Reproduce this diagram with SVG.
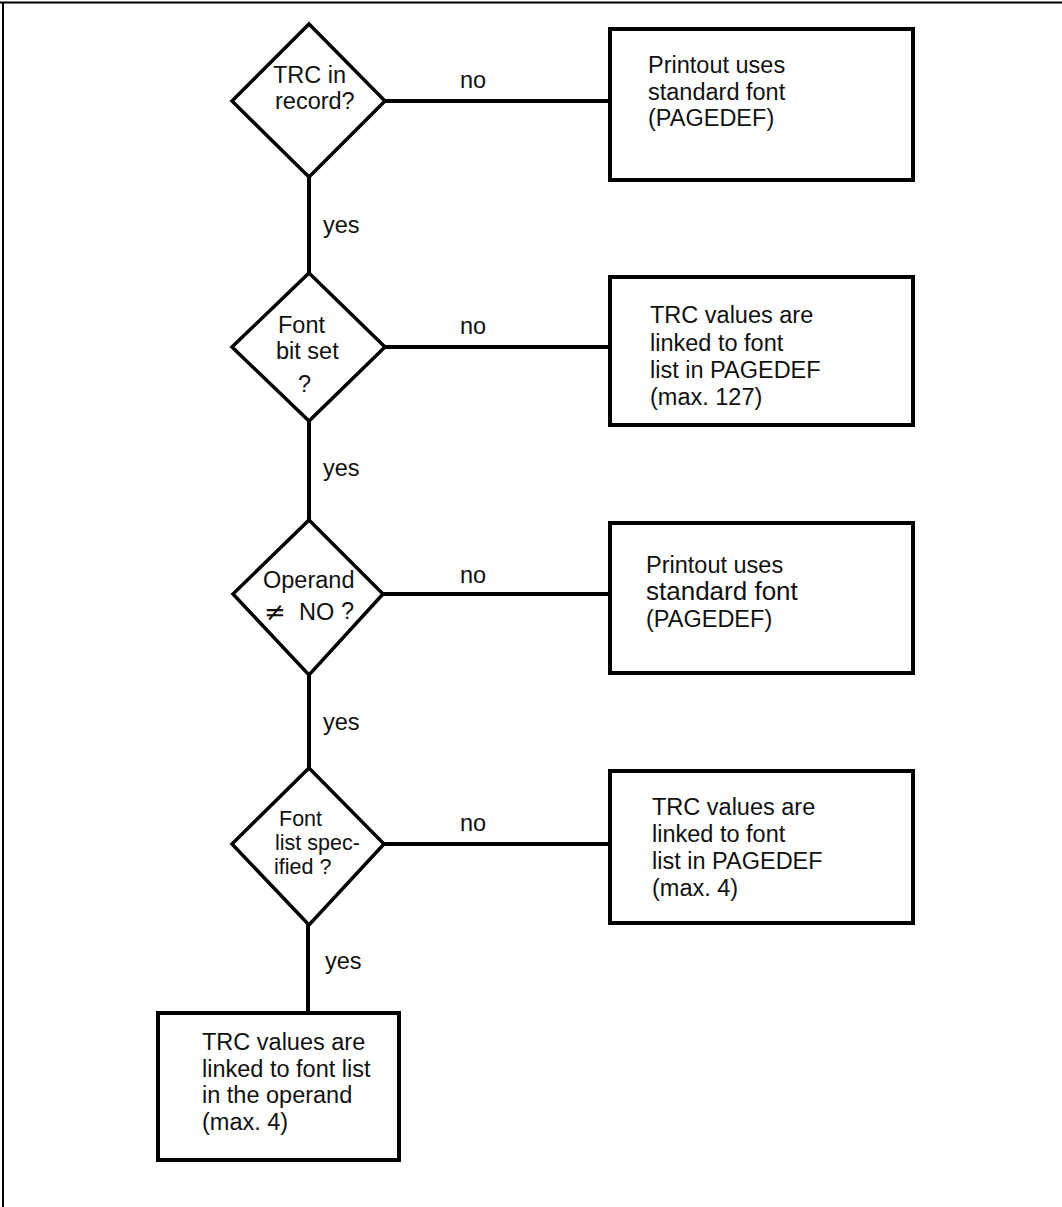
<svg xmlns="http://www.w3.org/2000/svg" width="1062" height="1207" viewBox="0 0 1062 1207">
  <style>
    .frame { stroke: #000; stroke-width: 2; fill: none; }
    .box { fill: #fff; stroke: #000; stroke-width: 4; }
    .dia { fill: #fff; stroke: #000; stroke-width: 3.5; stroke-linejoin: miter; }
    .wire { stroke: #000; stroke-width: 4; fill: none; }
    text { font-family: "Liberation Sans", Arial, sans-serif; font-size: 23.5px; fill: #111; }
    .big { font-size: 26px; }
    .tight { font-size: 21.5px; }
    .sym { font-family: "DejaVu Sans", sans-serif; font-size: 26px; }
  </style>
  <rect width="1062" height="1207" fill="#fff"/>
  <!-- page frame: top rule and left rule -->
  <path class="frame" d="M0 2.5 H1062 M3 2.5 V1207"/>

  <!-- connectors -->
  <g id="connectors">
    <path class="wire" d="M385 101 H610"/>
    <path class="wire" d="M385 347 H610"/>
    <path class="wire" d="M383 594 H610"/>
    <path class="wire" d="M384 844 H610"/>
    <path class="wire" d="M309 177 V273"/>
    <path class="wire" d="M309 421 V520"/>
    <path class="wire" d="M309 675 V768"/>
    <path class="wire" d="M308 925 V1012"/>
    <text x="460" y="88">no</text>
    <text x="460" y="334">no</text>
    <text x="460" y="583">no</text>
    <text x="460" y="831">no</text>
    <text x="323" y="233">yes</text>
    <text x="323" y="476">yes</text>
    <text x="323" y="730">yes</text>
    <text x="325" y="969">yes</text>
  </g>

  <!-- decision: TRC in record? -->
  <g id="d1">
    <polygon class="dia" points="309,24 385,101 309,177 232,101"/>
    <text x="273" y="83">TRC in</text>
    <text x="275" y="109">record?</text>
  </g>

  <!-- decision: font bit set -->
  <g id="d2">
    <polygon class="dia" points="309,273 385,347 309,421 232,347"/>
    <text x="278" y="333">Font</text>
    <text x="276" y="359">bit set</text>
    <text x="298" y="392">?</text>
  </g>

  <!-- decision: operand not NO -->
  <g id="d3">
    <polygon class="dia" points="309,520 383,594 309,675 233,594"/>
    <text x="263" y="588">Operand</text>
    <text class="sym" x="264" y="621">≠</text>
    <text x="299" y="620">NO</text>
    <text x="341" y="619">?</text>
  </g>

  <!-- decision: font list specified -->
  <g id="d4">
    <polygon class="dia" points="309,768 384,844 309,925 232,844"/>
    <text class="tight" x="279" y="826">Font</text>
    <text class="tight" x="275" y="850">list spec-</text>
    <text class="tight" x="274" y="874">ified  ?</text>
  </g>

  <!-- outcomes -->
  <g id="b1">
    <rect class="box" x="610" y="29" width="303" height="151"/>
    <text x="648" y="73">Printout uses</text>
    <text x="648" y="100">standard font</text>
    <text x="648" y="126">(PAGEDEF)</text>
  </g>

  <g id="b2">
    <rect class="box" x="610" y="277" width="303" height="148"/>
    <text x="650" y="323">TRC values are</text>
    <text x="650" y="351">linked to font</text>
    <text x="650" y="378">list in PAGEDEF</text>
    <text x="650" y="405">(max. 127)</text>
  </g>

  <g id="b3">
    <rect class="box" x="610" y="523" width="303" height="150"/>
    <text x="646" y="573">Printout uses</text>
    <text class="big" x="646" y="600">standard font</text>
    <text x="646" y="627">(PAGEDEF)</text>
  </g>

  <g id="b4">
    <rect class="box" x="610" y="771" width="303" height="152"/>
    <text x="652" y="815">TRC values are</text>
    <text x="652" y="842">linked to font</text>
    <text x="652" y="869">list in PAGEDEF</text>
    <text x="652" y="896">(max. 4)</text>
  </g>

  <g id="b5">
    <rect class="box" x="158" y="1013" width="241" height="147"/>
    <text x="202" y="1050">TRC values are</text>
    <text x="202" y="1077">linked to font list</text>
    <text x="202" y="1103">in the operand</text>
    <text x="202" y="1130">(max. 4)</text>
  </g>
</svg>
